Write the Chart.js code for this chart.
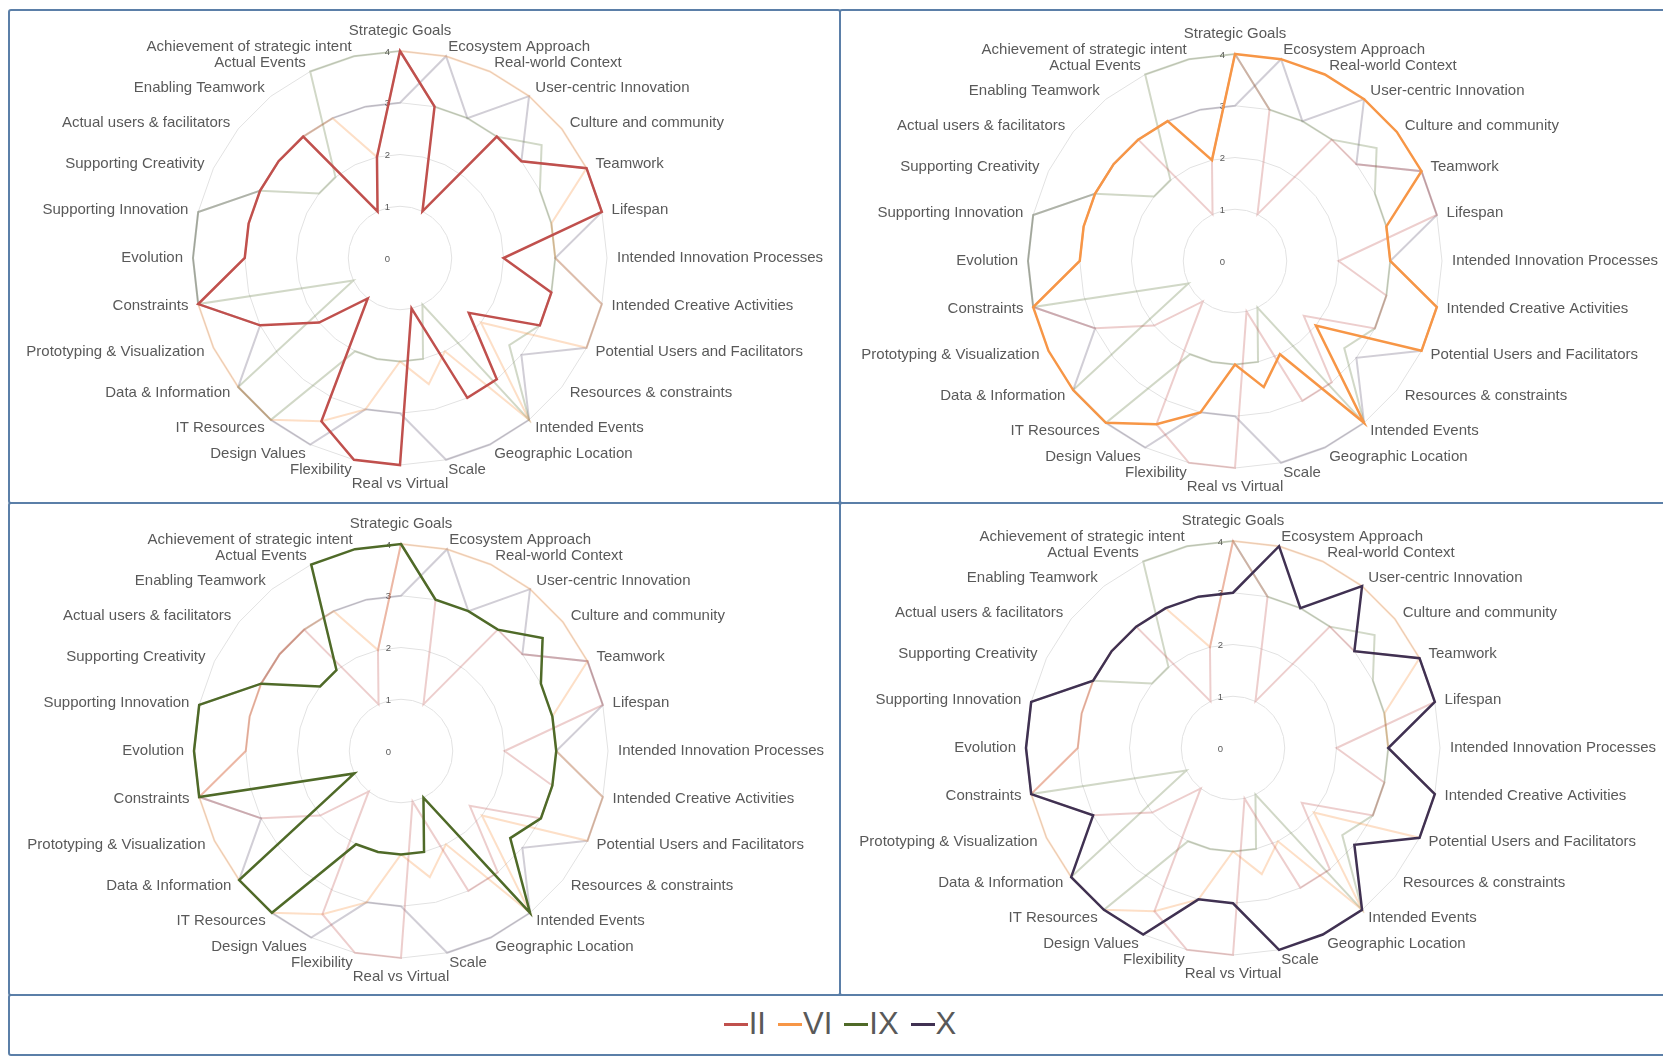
<!DOCTYPE html>
<html>
<head>
<meta charset="utf-8">
<title>Radar comparison</title>
<script src="https://cdn.jsdelivr.net/npm/chart.js@4.4.1/dist/chart.umd.min.js"></script>
<style>
  html, body { margin: 0; padding: 0; background: #fff; width: 1663px; height: 1056px; overflow: hidden; font-family: "Liberation Sans", Arial, sans-serif; }
  .panel { position: absolute; border: 2px solid #5b7fa8; border-radius: 3px; box-sizing: border-box; }
  .wrap { position: absolute; }
  #legend { position: absolute; left: 0; width: 1680px; top: 1008px; height: 32px; display: flex; justify-content: center; align-items: center; color: #595959; font-size: 31px; line-height: 32px; }
  #legend .item { display: flex; align-items: center; margin-left: 12px; }
  #legend .item:first-child { margin-left: 0; }
  #legend .mark { width: 24px; height: 3px; margin-right: 1px; }
</style>
</head>
<body>
<div class="panel" style="left:8px;top:9px;width:833px;height:495px"></div>
<div class="panel" style="left:839px;top:9px;width:840px;height:495px"></div>
<div class="panel" style="left:8px;top:502px;width:833px;height:494px"></div>
<div class="panel" style="left:839px;top:502px;width:840px;height:494px"></div>
<div class="panel" style="left:8px;top:994px;width:1672px;height:62px"></div>

<div class="wrap" id="w0"><canvas id="c0"></canvas></div>
<div class="wrap" id="w1"><canvas id="c1"></canvas></div>
<div class="wrap" id="w2"><canvas id="c2"></canvas></div>
<div class="wrap" id="w3"><canvas id="c3"></canvas></div>
<div id="legend"></div>

<script>
// Axes (clockwise from the top)
const categories = [
  "Strategic Goals", "Ecosystem Approach", "Real-world Context", "User-centric Innovation",
  "Culture and community", "Teamwork", "Lifespan", "Intended Innovation Processes",
  "Intended Creative Activities", "Potential Users and Facilitators", "Resources & constraints",
  "Intended Events", "Geographic Location", "Scale", "Real vs Virtual", "Flexibility",
  "Design Values", "IT Resources", "Data & Information", "Prototyping & Visualization",
  "Constraints", "Evolution", "Supporting Innovation", "Supporting Creativity",
  "Actual users & facilitators", "Enabling Teamwork", "Actual Events", "Achievement of strategic intent"
];

const seriesNames = ["II", "VI", "IX", "X"];
const seriesII = [4, 3, 1, 3, 3, 4, 4, 2, 3, 3, 1.7, 3, 3, 1, 4, 4, 3.5, 1, 2, 3, 4, 3, 3, 3, 3, 3, 1, 2];
const seriesVI = [4, 4, 4, 4, 4, 4, 3, 3, 4, 4, 2, 4, 2, 2.5, 2, 3, 3.5, 4, 4, 4, 4, 3, 3, 3, 3, 3, 3, 2];
const seriesIX = [4, 3, 3, 3, 3.5, 3, 3, 3, 3, 3, 2.7, 4, 1, 2, 2, 2, 2, 4, 4, 1, 4, 4, 4, 3, 2, 2, 4, 4];
const seriesX  = [3, 4, 3, 4, 3, 4, 4, 3, 4, 4, 3, 4, 4, 4, 3, 3, 4, 4, 4, 3, 4, 4, 4, 3, 3, 3, 3, 3];
const tickValues = [0, 1, 2, 3, 4];

const allSeries = [seriesII, seriesVI, seriesIX, seriesX];
const colors = ["#C0504D", "#F79646", "#4F6A28", "#403152"];
const faded = ["rgba(192,80,77,0.28)", "rgba(247,150,70,0.3)", "rgba(79,106,40,0.26)", "rgba(64,49,82,0.24)"];

// one panel per series: wrapper origin, wanted centre and radius
const panels = [
  { x: 9, y: 10, cx: 400, cy: 258 },
  { x: 840, y: 10, cx: 1235, cy: 261 },
  { x: 9, y: 503, cx: 401, cy: 751 },
  { x: 840, y: 503, cx: 1233, cy: 748 }
];
const W = 831, H = 492, R = 207;
const FONT = '"Liberation Sans", Arial, sans-serif';

// axis labels and tick numbers, placed from the radial scale
const radarText = {
  id: "radarText",
  beforeDatasetsDraw(chart) {
    const s = chart.scales.r;
    const ctx = chart.ctx;
    ctx.save();
    ctx.fillStyle = "#595959";
    ctx.font = "9.5px " + FONT;
    ctx.textAlign = "center";
    ctx.textBaseline = "middle";
    s.ticks.forEach(t => {
      const d = s.getDistanceFromCenterForValue(t.value);
      ctx.fillText(String(t.value), s.xCenter - 12.5, s.yCenter - d + 1);
    });
    ctx.font = "15px " + FONT;
    chart.data.labels.forEach((lab, i) => {
      const p = s.getPointPosition(i, s.drawingArea + 10);
      const deg = Math.round(s.getIndexAngle(i) * 180 / Math.PI) % 360;
      let y = p.y;
      if (deg === 0) { ctx.textAlign = "center"; y -= 10; }
      else if (deg === 180) { ctx.textAlign = "center"; y += 8.5; }
      else ctx.textAlign = deg < 180 ? "left" : "right";
      ctx.fillText(lab, p.x, y);
    });
    ctx.restore();
  }
};

document.addEventListener("DOMContentLoaded", () => {
  panels.forEach((p, k) => {
    const w = document.getElementById("w" + k);
    w.style.left = p.x + "px";
    w.style.top = p.y + "px";
    w.style.width = W + "px";
    w.style.height = H + "px";
    const left = p.cx - p.x - R, top = p.cy - p.y - R;

    const datasets = allSeries.map((vals, i) => ({
      label: seriesNames[i],
      data: vals,
      borderColor: i === k ? colors[i] : faded[i],
      borderWidth: i === k ? 2.5 : 2,
      pointRadius: 0,
      fill: false,
      order: i === k ? 0 : 1
    }));

    new Chart(document.getElementById("c" + k), {
      type: "radar",
      data: { labels: categories, datasets },
      options: {
        responsive: true,
        maintainAspectRatio: false,
        animation: false,
        layout: { padding: { left: left, top: top, right: W - left - 2 * R, bottom: H - top - 2 * R } },
        plugins: { legend: { display: false }, tooltip: { enabled: false } },
        scales: {
          r: {
            min: tickValues[0],
            max: tickValues[tickValues.length - 1],
            ticks: { stepSize: 1, display: false },
            grid: { color: "#e2e2e2", lineWidth: 1 },
            angleLines: { display: false },
            pointLabels: { display: false }
          }
        }
      },
      plugins: [radarText]
    });
  });

  const lg = document.getElementById("legend");
  seriesNames.forEach((n, i) => {
    const it = document.createElement("span");
    it.className = "item";
    it.innerHTML = '<span class="mark" style="background:' + colors[i] + '"></span><span>' + n + "</span>";
    lg.appendChild(it);
  });
});
</script>
</body>
</html>
